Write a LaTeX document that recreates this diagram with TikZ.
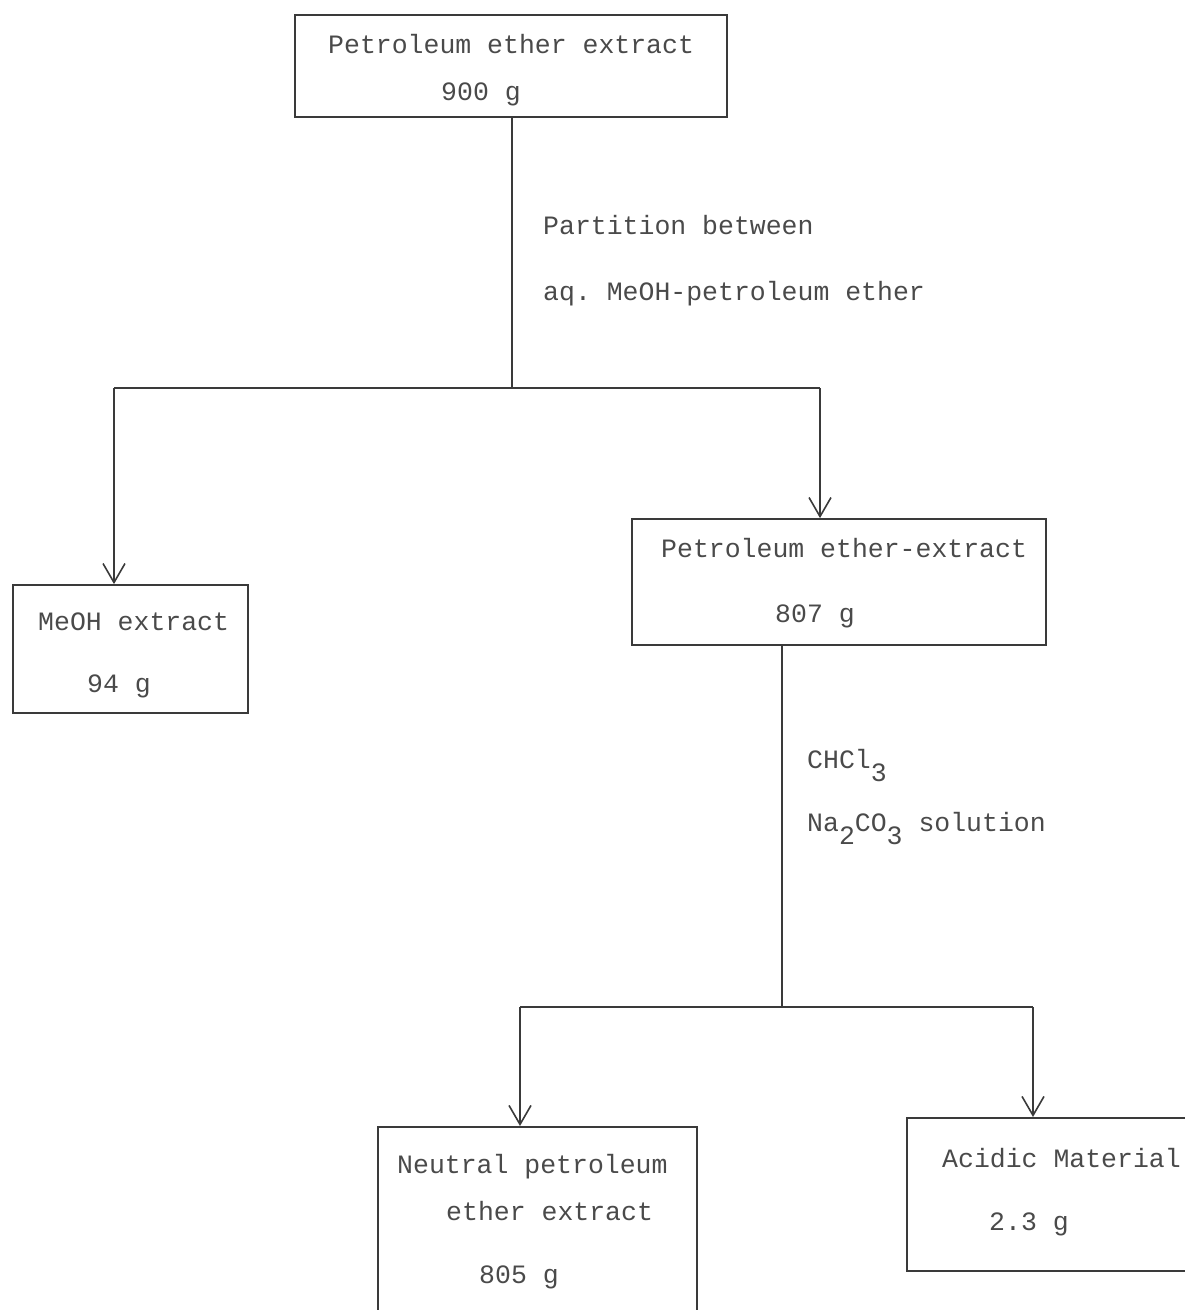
\documentclass[tikz,border=0pt]{standalone}
\usepackage{fontspec}
\setmonofont{Liberation Mono}
\usetikzlibrary{arrows.meta}
\definecolor{ink}{HTML}{3A3A3A}
\definecolor{typ}{HTML}{4A4A4A}
\newcommand{\lowsub}[1]{\raisebox{-0.5em}{#1}}
\begin{document}
\begin{tikzpicture}[x=1pt,y=-1pt,
  boxshape/.style={draw=ink, line width=1.8pt, rectangle, inner sep=0pt},
  txt/.style={anchor=base west, inner sep=0pt, text=typ, font=\ttfamily\fontsize{26.5}{30}\selectfont},
  conn/.style={draw=ink, line width=1.6pt},
  arr/.style={conn, -{Straight Barb[length=19pt,width=22pt,line width=1.6pt]}}]
\useasboundingbox (0,0) rectangle (1185,1310);
\clip (0,0) rectangle (1185,1310);
% boxes
\node[boxshape, minimum width=432pt, minimum height=102pt] (b1) at (511,66) {};
\node[boxshape, minimum width=235pt, minimum height=128pt] (b2) at (130.5,649) {};
\node[boxshape, minimum width=414pt, minimum height=126pt] (b3) at (839,582) {};
\node[boxshape, minimum width=319pt, minimum height=240pt, anchor=north west] (b4) at (377,1126) {};
\node[boxshape, minimum width=320pt, minimum height=153pt, anchor=north west] (b5) at (906,1117) {};
% texts
\node[txt] (t1a) at (328,53) {Petroleum ether extract};
\node[txt] (t1b) at (441,100) {900 g};
\node[txt] (l1a) at (543,234) {Partition between};
\node[txt] (l1b) at (543,300) {aq. MeOH-petroleum ether};
\node[txt] (t2a) at (38,630) {MeOH extract};
\node[txt] (t2b) at (87,692) {94 g};
\node[txt] (t3a) at (661,557) {Petroleum ether-extract};
\node[txt] (t3b) at (775,622) {807 g};
\node[txt] (l2a) at (807,768) {CHCl\lowsub{3}};
\node[txt] (l2b) at (807,831) {Na\lowsub{2}CO\lowsub{3} solution};
\node[txt] (t4a) at (397,1173) {Neutral petroleum};
\node[txt] (t4b) at (446,1220) {ether extract};
\node[txt] (t4c) at (479,1283) {805 g};
\node[txt] (t5a) at (942,1167) {Acidic Material};
\node[txt] (t5b) at (989,1230) {2.3 g};
% connectors
\coordinate (j1) at (512,388);
\coordinate (j1l) at (114,388);
\coordinate (j1r) at (820,388);
\draw[conn] (b1.south -| j1) -- (j1);
\draw[conn] (j1l) -- (j1r);
\draw[arr] (j1l) -- (j1l |- b2.north);
\draw[arr] (j1r) -- (j1r |- b3.north);
\coordinate (j2) at (782,1007);
\coordinate (j2l) at (520,1007);
\coordinate (j2r) at (1033,1007);
\draw[conn] (b3.south -| j2) -- (j2);
\draw[conn] (j2l) -- (j2r);
\draw[arr] (j2l) -- (j2l |- b4.north);
\draw[arr, line width=2.2pt] (j2r) -- (j2r |- b5.north);
\end{tikzpicture}
\end{document}
